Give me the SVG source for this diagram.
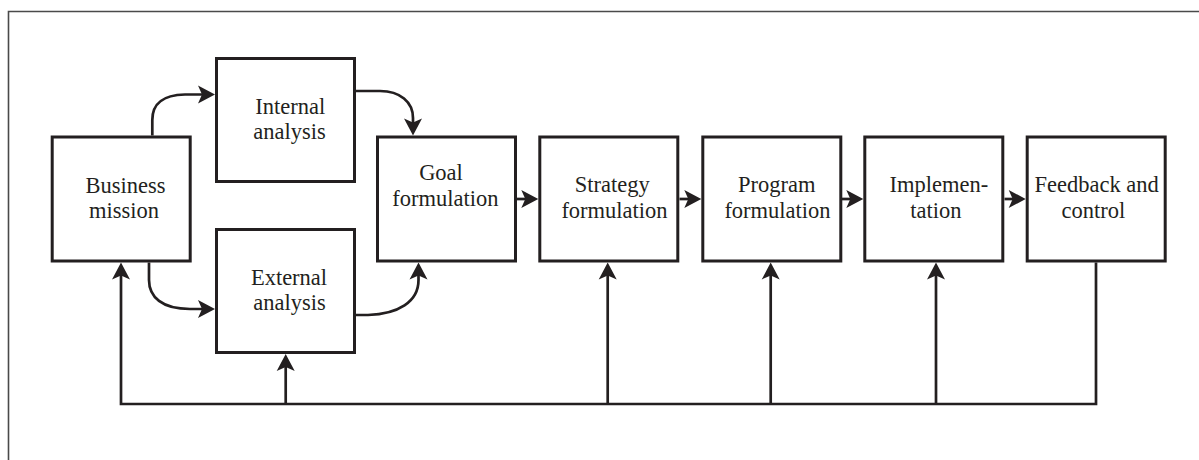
<svg xmlns="http://www.w3.org/2000/svg" width="1199" height="460" viewBox="0 0 1199 460">
  <style>
    .box { fill: #ffffff; stroke: #231f20; stroke-width: 3; }
    .lbl { font-family: "Liberation Serif", "Times New Roman", serif; font-size: 22.5px; fill: #231f20; text-anchor: middle; }
    .con { fill: none; stroke: #231f20; stroke-width: 2.7; stroke-linejoin: miter; }
    .frame { fill: none; stroke: #4a4a4a; stroke-width: 1.6; }
  </style>
  <defs>
    <marker id="ah" markerUnits="userSpaceOnUse" markerWidth="18" markerHeight="18" refX="7" refY="9" orient="auto" overflow="visible">
      <path d="M0,0 L17,9 L0,18 L4,9 Z" fill="#231f20"/>
    </marker>
  </defs>
  <rect width="1199" height="460" fill="#ffffff"/>
  <g id="frame">
    <path class="frame" d="M8.5,460 V11.5 H1199"/>
  </g>
  <g id="connectors">
    <path class="con" d="M152.3,135.5 V120 C152.3,103 163,95 185,94.5 H205" marker-end="url(#ah)"/>
    <path class="con" d="M356,91 H380 C400,91 413,102 413,118 V125.5" marker-end="url(#ah)"/>
    <path class="con" d="M149,262.5 V280 C149,297 162,309 190,309 H205" marker-end="url(#ah)"/>
    <path class="con" d="M356,315 H368 C398,314 418.5,302 418.5,280 V272.5" marker-end="url(#ah)"/>
    <path class="con" d="M517,199 H528.3" marker-end="url(#ah)"/>
    <path class="con" d="M679.5,199 H691.3" marker-end="url(#ah)"/>
    <path class="con" d="M842,199 H853.3" marker-end="url(#ah)"/>
    <path class="con" d="M1004.5,199 H1015.7" marker-end="url(#ah)"/>
    <path class="con" d="M1096,262.5 V404 H121 V272.5" marker-end="url(#ah)"/>
    <path class="con" d="M285.7,404 V364" marker-end="url(#ah)"/>
    <path class="con" d="M607.7,404 V272.5" marker-end="url(#ah)"/>
    <path class="con" d="M770.7,404 V272.5" marker-end="url(#ah)"/>
    <path class="con" d="M936,404 V272.5" marker-end="url(#ah)"/>
  </g>
  <g id="business-mission">
    <rect class="box" x="52.2" y="137" width="138" height="124"/>
    <text class="lbl" x="125.5" y="192.5">Business</text>
    <text class="lbl" x="124" y="218.3">mission</text>
  </g>
  <g id="internal-analysis">
    <rect class="box" x="216.5" y="58.5" width="138" height="123"/>
    <text class="lbl" x="290.3" y="114">Internal</text>
    <text class="lbl" x="289.5" y="139">analysis</text>
  </g>
  <g id="external-analysis">
    <rect class="box" x="216.5" y="229.5" width="138" height="123"/>
    <text class="lbl" x="289" y="285">External</text>
    <text class="lbl" x="289.5" y="310">analysis</text>
  </g>
  <g id="goal-formulation">
    <rect class="box" x="377.5" y="137" width="138" height="124"/>
    <text class="lbl" x="441" y="180">Goal</text>
    <text class="lbl" x="445.3" y="206">formulation</text>
  </g>
  <g id="strategy-formulation">
    <rect class="box" x="539.8" y="137" width="138" height="124"/>
    <text class="lbl" x="612.2" y="192">Strategy</text>
    <text class="lbl" x="614.5" y="218.3">formulation</text>
  </g>
  <g id="program-formulation">
    <rect class="box" x="702.8" y="137" width="138" height="124"/>
    <text class="lbl" x="776.7" y="192">Program</text>
    <text class="lbl" x="777.5" y="218.3">formulation</text>
  </g>
  <g id="implementation">
    <rect class="box" x="864.8" y="137" width="138" height="124"/>
    <text class="lbl" x="938.8" y="192">Implemen-</text>
    <text class="lbl" x="935.8" y="218.3">tation</text>
  </g>
  <g id="feedback-and-control">
    <rect class="box" x="1027.2" y="137" width="138" height="124"/>
    <text class="lbl" x="1096.7" y="192">Feedback and</text>
    <text class="lbl" x="1093.3" y="218.3">control</text>
  </g>
</svg>
